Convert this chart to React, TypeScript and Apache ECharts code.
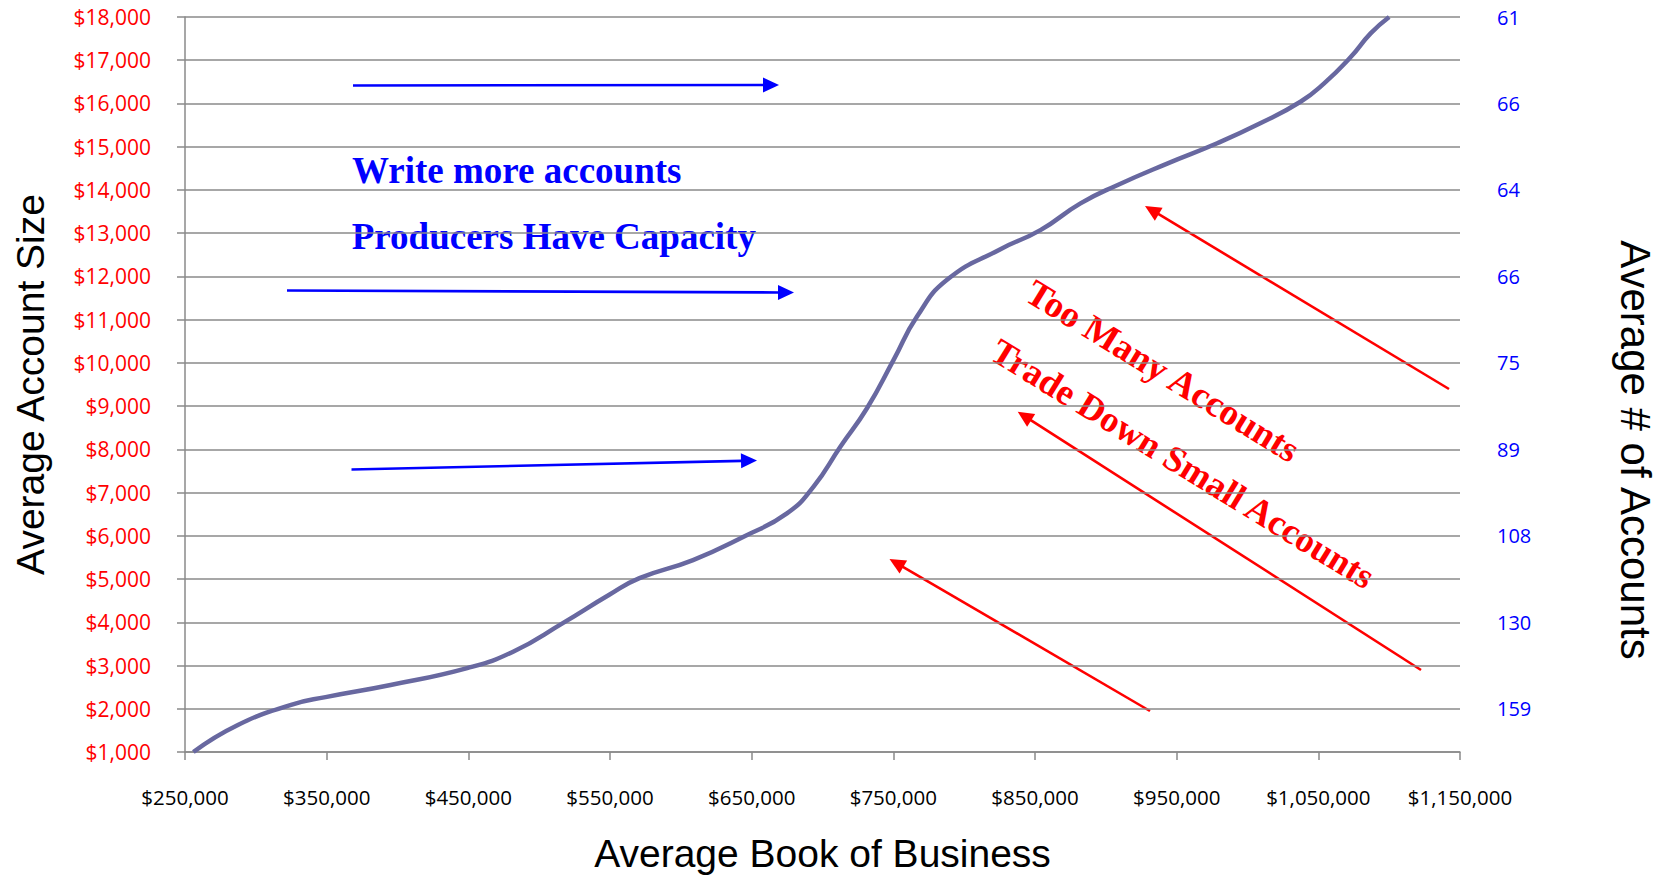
import React, { useEffect, useRef } from "react";
import * as echarts from "echarts";

// ---- Data ----
const bookOfBusiness = [
  255900, 287000, 324900, 349200, 395100, 449200, 481600, 516700, 549200, 570800,
  608600, 644300, 674900, 693700, 712600, 731400, 750200, 766700, 787900, 825600,
  853800, 882100, 908000, 943300, 978600, 1009000, 1037400, 1053900, 1073000, 1086900, 1100000,
];
const accountSize = [
  1000, 1620, 2090, 2270, 2550, 2940, 3320, 3980, 4630, 5020,
  5440, 5980, 6520, 7140, 8060, 8950, 10070, 11070, 11920, 12630,
  13070, 13690, 14110, 14610, 15080, 15540, 16040, 16460, 17080, 17620, 18000,
];
const xTickValues = [250000, 350000, 450000, 550000, 650000, 750000, 850000, 950000, 1050000, 1150000];
const accountCountTicks = [2000, 4000, 6000, 8000, 10000, 12000, 14000, 16000, 18000];
const accountCountLabels = ["159", "130", "108", "89", "75", "66", "64", "66", "61"];

const blueNotes = ["Write more accounts", "Producers Have Capacity"];
const redNotes = ["Too Many Accounts", "Trade Down Small Accounts"];

const money = (v: number) => "$" + Number(v).toLocaleString("en-US");

function arrow(x1: number, y1: number, x2: number, y2: number, color: string, hl = 16, hw = 7.5, lw = 2.6) {
  const dx = x2 - x1, dy = y2 - y1;
  const len = Math.hypot(dx, dy);
  const ux = dx / len, uy = dy / len;
  const bx = x2 - ux * hl, by = y2 - uy * hl;
  const px = -uy, py = ux;
  return [
    { type: "line", silent: true, shape: { x1, y1, x2: bx + ux, y2: by + uy }, style: { stroke: color, lineWidth: lw } },
    {
      type: "polygon", silent: true,
      shape: { points: [[x2, y2], [bx + px * hw, by + py * hw], [bx - px * hw, by - py * hw]] },
      style: { fill: color },
    },
  ];
}

export default function App() {
  const ref = useRef<HTMLDivElement>(null);
  useEffect(() => {
    if (!ref.current) return;
    const chart = echarts.init(ref.current, null, { renderer: "svg" });
    const gridColor = "#8a8a8a";
    const labelFont = "Open Sans";
    const ang = (31.6 * Math.PI) / 180;
    const option: any = {
      animation: false,
      backgroundColor: "#ffffff",
      grid: { left: 185, right: 205, top: 17, bottom: 123, outerBoundsMode: "none" },
      xAxis: {
        type: "value",
        min: 250000,
        max: 1150000,
        name: "Average Book of Business",
        nameLocation: "middle",
        nameGap: 82,
        nameTextStyle: { fontFamily: "Liberation Sans", fontSize: 39, color: "#000" },
        axisLine: { show: true, lineStyle: { color: gridColor, width: 1.5 } },
        axisTick: { show: true, length: 8, customValues: xTickValues, lineStyle: { color: gridColor, width: 1.5 } },
        axisLabel: {
          customValues: xTickValues,
          formatter: (v: number) => money(v),
          margin: 34,
          color: "#000",
          fontFamily: labelFont,
          fontSize: 20.5,
        },
        splitLine: { show: false },
      },
      yAxis: [
        {
          type: "value",
          min: 1000,
          max: 18000,
          interval: 1000,
          name: "Average Account Size",
          nameLocation: "middle",
          nameGap: 135,
          nameTextStyle: { fontFamily: "Liberation Sans", fontSize: 39, color: "#000" },
          axisLine: { show: true, lineStyle: { color: gridColor, width: 1.5 } },
          axisTick: { show: true, length: 8, lineStyle: { color: gridColor, width: 1.5 } },
          axisLabel: { formatter: (v: number) => money(v), margin: 34, color: "#ff0000", fontFamily: labelFont, fontSize: 21 },
          splitLine: { show: true, lineStyle: { color: gridColor, width: 1.5 } },
        },
        {
          type: "value",
          position: "right",
          min: 1000,
          max: 18000,
          interval: 1000,
          axisLine: { show: false },
          axisTick: { show: false },
          splitLine: { show: false },
          axisLabel: {
            margin: 37,
            color: "#0000ff",
            fontFamily: labelFont,
            fontSize: 20,
            formatter: (v: number) => {
              const i = accountCountTicks.indexOf(v);
              return i >= 0 ? accountCountLabels[i] : "";
            },
          },
        },
      ],
      series: [
        {
          type: "line",
          yAxisIndex: 0,
          data: bookOfBusiness.map((x, i) => [x, accountSize[i]]),
          showSymbol: false,
          symbol: "none",
          smooth: 0.5,
          lineStyle: { color: "#6868a0", width: 4.5 },
          silent: true,
        },
      ],
      graphic: [
        ...arrow(353, 85.5, 779, 85, "#0000ff"),
        ...arrow(287, 290.5, 794, 292.5, "#0000ff"),
        ...arrow(351.5, 469.5, 757, 460.5, "#0000ff"),
        ...arrow(1449, 389, 1145, 206, "#ff0000"),
        ...arrow(1421, 670, 1017.7, 411.7, "#ff0000"),
        ...arrow(1150, 711, 889.5, 559, "#ff0000"),
        {
          type: "text", silent: true, x: 352, y: 170.2,
          style: { text: blueNotes[0], fill: "#0000ff", font: 'bold 37px "Liberation Serif"', align: "left", verticalAlign: "middle" },
        },
        {
          type: "text", silent: true, x: 351.7, y: 236.8,
          style: { text: blueNotes[1], fill: "#0000ff", font: 'bold 37px "Liberation Serif"', align: "left", verticalAlign: "middle" },
        },
        {
          type: "text", silent: true, x: 1163, y: 370.8, rotation: -ang,
          style: { text: redNotes[0], fill: "#ff0000", font: 'bold 37px "Liberation Serif"', align: "center", verticalAlign: "middle" },
        },
        {
          type: "text", silent: true, x: 1183, y: 463.5, rotation: -ang,
          style: { text: redNotes[1], fill: "#ff0000", font: 'bold 36.5px "Liberation Serif"', align: "center", verticalAlign: "middle" },
        },
        {
          type: "text", silent: true, x: 1635, y: 450, rotation: -Math.PI / 2,
          style: { text: "Average # of Accounts", fill: "#000", font: '42px "Liberation Sans"', align: "center", verticalAlign: "middle" },
        },
      ],
    };
    chart.setOption(option);
    return () => chart.dispose();
  }, []);
  return (
    <div
      ref={ref}
      style={{ position: "fixed", left: 0, top: 0, width: 1665, height: 875, background: "#fff" }}
    />
  );
}
